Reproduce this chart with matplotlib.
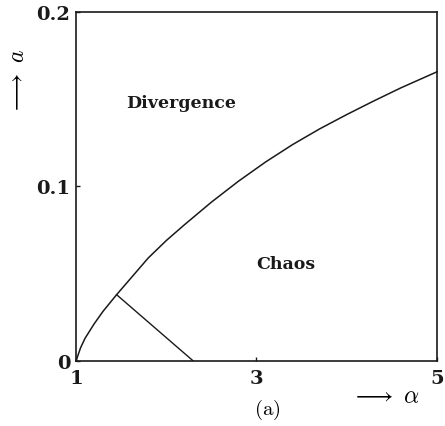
#!/usr/bin/env python3
from __future__ import annotations

import matplotlib

matplotlib.use("Agg")
import matplotlib.pyplot as plt


FIGURE_DPI = 100
LINE_COLOR = "#1a1a1a"

# upper boundary: divergence above, chaos below
BOUNDARY_ALPHA = [1.0, 1.05, 1.1, 1.2, 1.3, 1.45, 1.6, 1.8, 2.0, 2.2, 2.5, 2.8, 3.1, 3.4, 3.7, 4.0, 4.3, 4.6, 5.0]
BOUNDARY_A = [0.0, 0.0075, 0.0130, 0.0212, 0.0285, 0.038, 0.047, 0.059, 0.069, 0.078, 0.091, 0.103, 0.114,
              0.124, 0.133, 0.1412, 0.149, 0.1565, 0.1657]

# short branch from the boundary down to the alpha axis
BRANCH_ALPHA = [1.45, 2.30]
BRANCH_A = [0.038, 0.0]

X_TICKS = [1, 3, 5]
Y_TICKS = [0.0, 0.1, 0.2]
X_TICK_LABELS = ["1", "3", "5"]
Y_TICK_LABELS = ["0", "0.1", "0.2"]

REGION_LABELS = ["Divergence", "Chaos"]
REGION_POS = [(2.17, 0.148), (3.33, 0.056)]


def _configure_plot_style() -> None:
    plt.rcParams.update(
        {
            "font.family": ["DejaVu Serif"],
            "mathtext.fontset": "cm",
            "figure.facecolor": "white",
            "axes.facecolor": "white",
            "savefig.dpi": FIGURE_DPI,
        }
    )


def _style_axis(ax) -> None:
    ax.set_xlim(1, 5)
    ax.set_ylim(0, 0.2)
    ax.set_xticks(X_TICKS)
    ax.set_yticks(Y_TICKS)
    ax.set_xticklabels(X_TICK_LABELS, fontsize=14, fontweight="bold")
    ax.set_yticklabels(Y_TICK_LABELS, fontsize=14, fontweight="bold")
    ax.tick_params(axis="x", direction="in", length=3, width=1.0, pad=6, colors=LINE_COLOR)
    ax.tick_params(axis="y", direction="in", length=3, width=1.0, pad=4, colors=LINE_COLOR)
    for spine in ax.spines.values():
        spine.set_color(LINE_COLOR)
        spine.set_linewidth(1.2)


def main() -> None:
    _configure_plot_style()
    fig = plt.figure(figsize=(4.45, 4.27), dpi=FIGURE_DPI)
    ax = fig.add_axes([0.1708, 0.1522, 0.811, 0.8174])

    ax.plot(BOUNDARY_ALPHA, BOUNDARY_A, color=LINE_COLOR, linewidth=1.1, clip_on=False)
    ax.plot(BRANCH_ALPHA, BRANCH_A, color=LINE_COLOR, linewidth=1.0)

    for label, (x, y) in zip(REGION_LABELS, REGION_POS):
        ax.text(x, y, label, fontsize=12.5, fontweight="bold", ha="center", va="center", color=LINE_COLOR)

    _style_axis(ax)

    # axis names with arrows, as in the printed figure
    fig.text(0.866, 0.072, r"$\longrightarrow\ \alpha$", fontsize=17, ha="center", va="center")
    fig.text(0.040, 0.809, r"$\longrightarrow\ a$", fontsize=17, ha="center", va="center", rotation=90)
    fig.text(0.601, 0.040, r"$\mathrm{(a)}$", fontsize=15, ha="center", va="center")

    fig.savefig("out.png", dpi=FIGURE_DPI)
    plt.close(fig)


if __name__ == "__main__":
    main()
